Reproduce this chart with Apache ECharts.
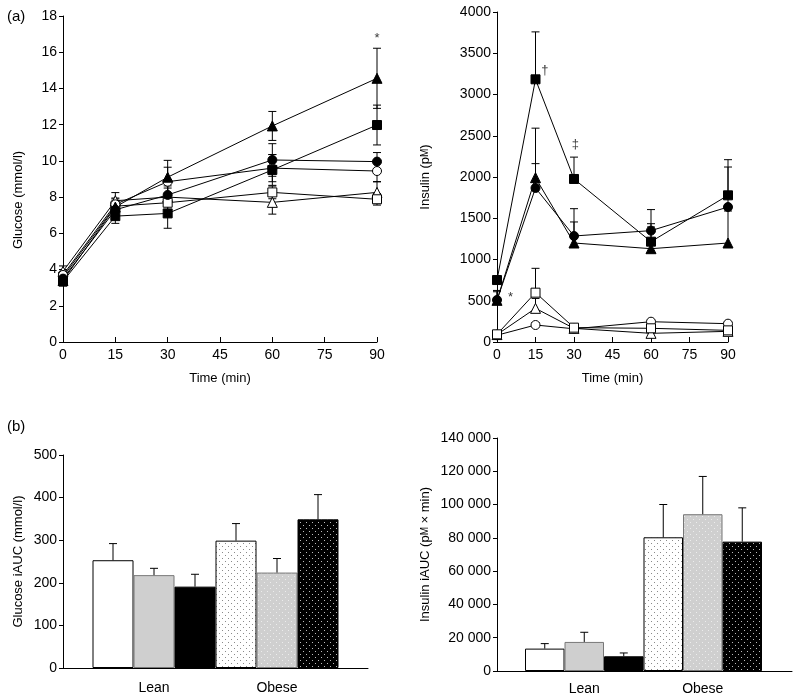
<!DOCTYPE html>
<html>
<head>
<meta charset="utf-8">
<script src="https://cdn.jsdelivr.net/npm/echarts@6/dist/echarts.min.js"></script>
<style>html,body{margin:0;padding:0;background:#fff}#c{width:800px;height:700px}</style>
</head>
<body>
<div id="c"></div>
<script>
// ---------- DATA ----------
const timePoints = [0, 15, 30, 60, 90];
const timeTicks = [0, 15, 30, 45, 60, 75, 90];

// Glucose (mmol/l): mean and SEM per marker series
const glucoseFilledTriangle = [3.4, 7.45, 9.1, 11.93, 14.56];
const glucoseFilledTriangleSE = [0.3, 0.45, 0.93, 0.8, 1.66];
const glucoseFilledSquare = [3.35, 6.95, 7.1, 9.5, 11.98];
const glucoseFilledSquareSE = [0.25, 0.4, 0.82, 0.85, 1.1];
const glucoseFilledCircle = [3.5, 7.3, 8.12, 10.05, 9.96];
const glucoseFilledCircleSE = [0.3, 0.35, 0.5, 0.9, 0.5];
const glucoseOpenCircle = [3.7, 7.6, 8.85, 9.6, 9.44];
const glucoseOpenCircleSE = [0.3, 0.35, 0.8, 0.75, 0.6];
const glucoseOpenSquare = [3.6, 7.5, 7.69, 8.26, 7.88];
const glucoseOpenSquareSE = [0.3, 0.3, 0.4, 0.35, 0.32];
const glucoseOpenTriangle = [3.9, 7.8, 8.0, 7.71, 8.26];
const glucoseOpenTriangleSE = [0.3, 0.45, 0.5, 0.65, 0.6];

// Insulin (pM)
const insulinFilledSquare = [751, 3184, 1976, 1216, 1778];
const insulinFilledSquareSE = [50, 575, 265, 218, 432];
const insulinFilledCircle = [509, 1867, 1285, 1350, 1636];
const insulinFilledCircleSE = [100, 295, 170, 255, 485];
const insulinFilledTriangle = [505, 1992, 1200, 1131, 1200];
const insulinFilledTriangleSE = [120, 600, 416, 263, 388];
const insulinOpenSquare = [93, 598, 174, 166, 141];
const insulinOpenSquareSE = [15, 295, 20, 20, 20];
const insulinOpenTriangle = [90, 408, 165, 105, 129];
const insulinOpenTriangleSE = [15, 120, 20, 15, 15];
const insulinOpenCircle = [82, 206, 160, 246, 222];
const insulinOpenCircleSE = [10, 30, 20, 25, 25];

// iAUC bars
const groups = ['Lean', 'Obese'];
const glucoseAUCLean = [253, 218, 191];
const glucoseAUCLeanSE = [39, 16, 29];
const glucoseAUCObese = [299, 224, 349];
const glucoseAUCObeseSE = [40, 33, 58];
const insulinAUCLean = [13450, 17470, 8840];
const insulinAUCLeanSE = [3000, 5800, 2000];
const insulinAUCObese = [80340, 94200, 77730];
const insulinAUCObeseSE = [19700, 22700, 20300];

// annotation marks [x, y, text]
const glucoseMarks = [[90, 16.75, '*']];
const insulinMarks = [[18.6, 3290, '†'], [30.5, 2390, '‡'], [5.3, 540, '*']];

// ---------- HELPERS ----------
const FONT = 'Liberation Sans, Arial, sans-serif';
const chart = echarts.init(document.getElementById('c'), null, {renderer: 'canvas'});

function pattern(bg, dot) {
  const c = document.createElement('canvas');
  c.width = 6; c.height = 6;
  const g = c.getContext('2d');
  g.fillStyle = bg; g.fillRect(0, 0, 6, 6);
  g.fillStyle = dot; g.fillRect(0, 0, 1, 1); g.fillRect(3, 3, 1, 1);
  return {image: c, repeat: 'repeat'};
}

function zip(xs, ys, es) { return xs.map((x, i) => [x, ys[i], es[i]]); }

function lineSeries(xi, yi, data, symbol, size, open) {
  return {
    type: 'line', xAxisIndex: xi, yAxisIndex: yi,
    data: timePoints.map((t, i) => [t, data[i]]),
    symbol: symbol, symbolSize: size, showSymbol: true, showAllSymbol: true,
    lineStyle: {color: '#000', width: 1},
    itemStyle: {color: open ? '#fff' : '#000', borderColor: '#000', borderWidth: 1},
    z: 3, silent: true
  };
}

function errSeries(xi, yi, means, ses, both) {
  return {
    type: 'custom', xAxisIndex: xi, yAxisIndex: yi, z: 2, silent: true,
    data: zip(timePoints, means, ses),
    renderItem: function (params, api) {
      const x = api.value(0), y = api.value(1), e = api.value(2);
      const top = api.coord([x, y + e]);
      const bot = api.coord([x, both ? y - e : y]);
      const w = 4;
      const st = {stroke: '#000', lineWidth: 1};
      const ch = [
        {type: 'line', shape: {x1: top[0], y1: top[1], x2: bot[0], y2: bot[1]}, style: st},
        {type: 'line', shape: {x1: top[0] - w, y1: top[1], x2: top[0] + w, y2: top[1]}, style: st}
      ];
      if (both) ch.push({type: 'line', shape: {x1: bot[0] - w, y1: bot[1], x2: bot[0] + w, y2: bot[1]}, style: st});
      return {type: 'group', children: ch};
    }
  };
}

function markSeries(xi, yi, marks) {
  return {
    type: 'scatter', xAxisIndex: xi, yAxisIndex: yi, symbolSize: 1, silent: true, z: 5,
    itemStyle: {color: 'rgba(0,0,0,0)'},
    data: marks,
    label: {show: true, position: 'inside', formatter: p => p.value[2], color: '#000', fontFamily: FONT, fontSize: 13}
  };
}

const leanStyles = [
  {color: '#fff', borderColor: '#000', borderWidth: 1},
  {color: '#cfcfcf', borderColor: '#777', borderWidth: 1},
  {color: '#000', borderColor: '#000', borderWidth: 1}
];
const obeseStyles = [
  {color: pattern('#fff', '#8a8a8a'), borderColor: '#000', borderWidth: 1},
  {color: pattern('#cfcfcf', '#ececec'), borderColor: '#777', borderWidth: 1},
  {color: pattern('#000', '#bdbdbd'), borderColor: '#000', borderWidth: 1}
];

function barSeries(xi, yi, lean, obese) {
  return [0, 1, 2].map(k => ({
    type: 'bar', xAxisIndex: xi, yAxisIndex: yi, barGap: '0%', barCategoryGap: '0%',
    silent: true, z: 2,
    data: [
      {value: lean[k], itemStyle: leanStyles[k]},
      {value: obese[k], itemStyle: obeseStyles[k]}
    ]
  }));
}

function barErr(xi, yi, lean, leanSE, obese, obeseSE) {
  const data = [];
  [lean, obese].forEach((arr, g) => arr.forEach((v, k) => data.push([g, v, (g ? obeseSE : leanSE)[k], k])));
  return {
    type: 'custom', xAxisIndex: xi, yAxisIndex: yi, z: 3, silent: true, data: data,
    renderItem: function (params, api) {
      const g = api.value(0), v = api.value(1), e = api.value(2), k = api.value(3);
      const band = api.size([1, 0])[0];
      const bw = band / 3;
      const base = api.coord([g, v]);
      const x = base[0] + (k - 1) * bw;
      const top = api.coord([g, v + e])[1];
      const st = {stroke: '#000', lineWidth: 1};
      return {type: 'group', children: [
        {type: 'line', shape: {x1: x, y1: base[1], x2: x, y2: top}, style: st},
        {type: 'line', shape: {x1: x - 4, y1: top, x2: x + 4, y2: top}, style: st}
      ]};
    }
  };
}

const axisText = {color: '#000', fontFamily: FONT, fontSize: 14};
const nameText = {color: '#000', fontFamily: FONT, fontSize: 13};
const lineAx = {show: true, onZero: false, lineStyle: {color: '#000', width: 1}};
const plain = v => String(v);

function timeAxis(gi) {
  return {
    type: 'value', gridIndex: gi, min: 0, max: 90, interval: 15,
    axisLine: lineAx, axisTick: {show: true, inside: true, length: 5, lineStyle: {color: '#000'}},
    axisLabel: Object.assign({margin: 6, formatter: plain}, axisText), splitLine: {show: false},
    name: 'Time (min)', nameLocation: 'middle', nameGap: 30, nameTextStyle: nameText
  };
}

function valAxis(gi, min, max, interval, name, nameGap, extra) {
  return Object.assign({
    type: 'value', gridIndex: gi, min: min, max: max, interval: interval,
    axisLine: lineAx, axisTick: {show: true, inside: false, length: 4, lineStyle: {color: '#000'}},
    axisLabel: Object.assign({margin: 6, formatter: plain}, axisText), splitLine: {show: false},
    name: name, nameLocation: 'middle', nameGap: nameGap, nameTextStyle: nameText
  }, extra || {});
}

const option = {
  animation: false,
  backgroundColor: '#fff',
  grid: [
    {left: 63, top: 16, width: 314, height: 326},   // 0 glucose time course
    {left: 497, top: 12, width: 231, height: 330},  // 1 insulin time course
    {left: 63, top: 455, width: 305, height: 213},  // 2 glucose AUC frame
    {left: 92.5, top: 455, width: 246, height: 213},// 3 glucose AUC bars
    {left: 497, top: 438, width: 295, height: 233}, // 4 insulin AUC frame
    {left: 525, top: 438, width: 237, height: 233}  // 5 insulin AUC bars
  ],
  xAxis: [
    timeAxis(0),
    timeAxis(1),
    {type: 'value', gridIndex: 2, min: 0, max: 1, axisLine: lineAx, axisTick: {show: false}, axisLabel: {show: false}, splitLine: {show: false}},
    {type: 'category', gridIndex: 3, data: groups, axisLine: {show: false}, axisTick: {show: false}, axisLabel: Object.assign({margin: 13}, axisText)},
    {type: 'value', gridIndex: 4, min: 0, max: 1, axisLine: lineAx, axisTick: {show: false}, axisLabel: {show: false}, splitLine: {show: false}},
    {type: 'category', gridIndex: 5, data: groups, axisLine: {show: false}, axisTick: {show: false}, axisLabel: Object.assign({margin: 11}, axisText)}
  ],
  yAxis: [
    valAxis(0, 0, 18, 2, 'Glucose (mmol/l)', 38, {nameTextStyle: Object.assign({padding: [0, 42, 0, 0]}, nameText)}),
    valAxis(1, 0, 4000, 500, 'Insulin (pM)', 65, {
      name: '{a|Insulin (p}{b|M}{a|)}',
      nameTextStyle: Object.assign({rich: {a: nameText, b: {color: '#000', fontFamily: FONT, fontSize: 10}}}, nameText)
    }),
    valAxis(2, 0, 500, 100, 'Glucose iAUC (mmol/l)', 38),
    {type: 'value', gridIndex: 3, min: 0, max: 500, show: false},
    valAxis(4, 0, 140000, 20000, 'Insulin iAUC', 65, {
      name: '{a|Insulin iAUC (p}{b|M}{a| × min)}',
      nameTextStyle: Object.assign({rich: {a: nameText, b: {color: '#000', fontFamily: FONT, fontSize: 10}}}, nameText),
      axisLabel: Object.assign({margin: 6, formatter: v => v === 0 ? '0' : (v / 1000) + ' 000'}, axisText)
    }),
    {type: 'value', gridIndex: 5, min: 0, max: 140000, show: false}
  ],
  graphic: [
    {type: 'text', left: 7, top: 9, style: {text: '(a)', font: '15px ' + FONT, fill: '#000'}},
    {type: 'text', left: 7, top: 419, style: {text: '(b)', font: '15px ' + FONT, fill: '#000'}}
  ],
  series: [
    // glucose
    errSeries(0, 0, glucoseOpenTriangle, glucoseOpenTriangleSE, true),
    errSeries(0, 0, glucoseOpenSquare, glucoseOpenSquareSE, true),
    errSeries(0, 0, glucoseOpenCircle, glucoseOpenCircleSE, true),
    errSeries(0, 0, glucoseFilledCircle, glucoseFilledCircleSE, true),
    errSeries(0, 0, glucoseFilledSquare, glucoseFilledSquareSE, true),
    errSeries(0, 0, glucoseFilledTriangle, glucoseFilledTriangleSE, true),
    lineSeries(0, 0, glucoseOpenTriangle, 'triangle', 10, true),
    lineSeries(0, 0, glucoseOpenSquare, 'rect', 9, true),
    lineSeries(0, 0, glucoseOpenCircle, 'circle', 9, true),
    lineSeries(0, 0, glucoseFilledCircle, 'circle', 9, false),
    lineSeries(0, 0, glucoseFilledSquare, 'rect', 9, false),
    lineSeries(0, 0, glucoseFilledTriangle, 'triangle', 10, false),
    markSeries(0, 0, glucoseMarks),
    // insulin
    errSeries(1, 1, insulinOpenCircle, insulinOpenCircleSE, false),
    errSeries(1, 1, insulinOpenTriangle, insulinOpenTriangleSE, false),
    errSeries(1, 1, insulinOpenSquare, insulinOpenSquareSE, false),
    errSeries(1, 1, insulinFilledTriangle, insulinFilledTriangleSE, false),
    errSeries(1, 1, insulinFilledCircle, insulinFilledCircleSE, false),
    errSeries(1, 1, insulinFilledSquare, insulinFilledSquareSE, false),
    lineSeries(1, 1, insulinOpenCircle, 'circle', 9, true),
    lineSeries(1, 1, insulinOpenTriangle, 'triangle', 10, true),
    lineSeries(1, 1, insulinOpenSquare, 'rect', 9, true),
    lineSeries(1, 1, insulinFilledTriangle, 'triangle', 10, false),
    lineSeries(1, 1, insulinFilledCircle, 'circle', 9, false),
    lineSeries(1, 1, insulinFilledSquare, 'rect', 9, false),
    markSeries(1, 1, insulinMarks),
    // bars
    ...barSeries(3, 3, glucoseAUCLean, glucoseAUCObese),
    barErr(3, 3, glucoseAUCLean, glucoseAUCLeanSE, glucoseAUCObese, glucoseAUCObeseSE),
    ...barSeries(5, 5, insulinAUCLean, insulinAUCObese),
    barErr(5, 5, insulinAUCLean, insulinAUCLeanSE, insulinAUCObese, insulinAUCObeseSE)
  ]
};
chart.setOption(option);
</script>
</body>
</html>
